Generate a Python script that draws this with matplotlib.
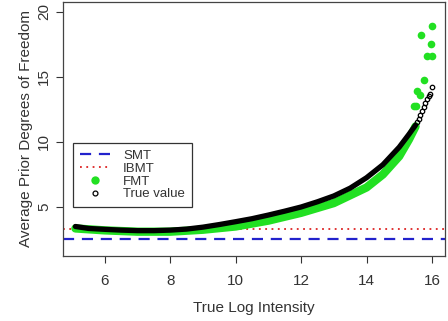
import matplotlib.pyplot as plt
from matplotlib.lines import Line2D

plt.rcParams['font.family'] = ['Liberation Sans', 'DejaVu Sans']

# dense part of the curves
true_x = [5.1, 5.5, 6.0, 6.5, 7.0, 7.5, 8.0, 8.5, 9.0, 9.5, 10.0, 10.5, 11.0, 11.5,
          12.0, 12.5, 13.0, 13.5, 14.0, 14.5, 15.0, 15.3, 15.5]
true_y = [3.5, 3.35, 3.28, 3.22, 3.18, 3.18, 3.22, 3.3, 3.45, 3.65, 3.87, 4.1, 4.38, 4.68,
          5.0, 5.4, 5.85, 6.45, 7.25, 8.25, 9.6, 10.6, 11.3]
fmt_x = [5.1, 6.0, 7.0, 8.0, 9.0, 10.0, 11.0, 12.0, 13.0, 14.0, 14.5, 15.0, 15.3, 15.5]
fmt_y = [3.35, 3.2, 3.1, 3.1, 3.25, 3.5, 3.95, 4.55, 5.3, 6.5, 7.5, 8.9, 10.2, 11.2]

# sparse points at the top end
true_tail_x = [15.55, 15.6, 15.65, 15.7, 15.75, 15.8, 15.85, 15.9, 15.95, 16.0]
true_tail_y = [11.5, 11.8, 12.1, 12.4, 12.7, 13.0, 13.3, 13.5, 13.7, 14.2]
fmt_tail_x = [15.46, 15.5, 15.53, 15.65, 15.75, 15.66, 15.86, 16.0, 15.96, 16.0]
fmt_tail_y = [12.77, 12.8, 13.95, 13.6, 14.8, 18.2, 16.6, 16.6, 17.5, 18.9]

smt = 2.56
ibmt = 3.28

fig = plt.figure(figsize=(4.48, 3.21), dpi=100)
ax = fig.add_axes([0.1406, 0.2025, 0.8527, 0.7913])

ax.axhline(smt, color='#2222cc', lw=1.6, ls=(0, (5, 3.5)))
ax.axhline(ibmt, color='#dd2222', lw=1.3, ls=(0, (1, 2.5)))

ax.plot(fmt_x, fmt_y, color='#22e022', lw=6, solid_capstyle='round')
ax.plot(fmt_tail_x, fmt_tail_y, 'o', color='#22e022', ms=5.5, mec='none')
ax.plot(true_x, true_y, color='black', lw=3.8, solid_capstyle='round')
ax.plot(true_tail_x, true_tail_y, 'o', mfc='none', mec='black', ms=3.2, mew=0.9)

ax.set_xlim(4.72, 16.4)
ax.set_ylim(1.23, 20.77)
ax.set_xticks([6, 8, 10, 12, 14, 16])
ax.set_yticks([5, 10, 15, 20])
for lbl in ax.get_yticklabels():
    lbl.set_rotation(90)
    lbl.set_va('center')
ax.tick_params(labelsize=11, colors='#333333', length=5, width=0.8)
ax.tick_params(axis='x', pad=8)
for s in ax.spines.values():
    s.set_color('#444444')
    s.set_linewidth(0.9)

ax.set_xlabel('True Log Intensity', fontsize=11, color='#333333', labelpad=9)
ax.set_ylabel('Average Prior Degrees of Freedom', fontsize=11, color='#333333', labelpad=3)

handles = [
    Line2D([], [], color='#2222cc', lw=1.6, ls=(0, (5, 3.5))),
    Line2D([], [], color='#dd2222', lw=1.3, ls=(0, (1, 2.5))),
    Line2D([], [], color='#22e022', marker='o', ls='none', ms=6, mec='none'),
    Line2D([], [], color='black', marker='o', ls='none', ms=3.5, mfc='none', mew=0.9),
]
leg = ax.legend(handles, ['SMT', 'IBMT', 'FMT', 'True value'],
                loc='upper left', bbox_to_anchor=(0.026, 0.445), fontsize=9.5,
                fancybox=False, edgecolor='#333333', framealpha=1,
                handlelength=2.3, handletextpad=1.0, labelspacing=0.05,
                borderpad=0.5, borderaxespad=0)
leg.get_frame().set_linewidth(0.9)
for t in leg.get_texts():
    t.set_color('#333333')

fig.savefig('out.png', dpi=100)
